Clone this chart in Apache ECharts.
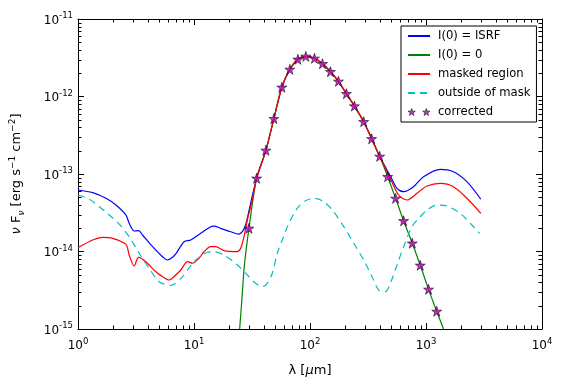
<!DOCTYPE html>
<html><head><meta charset="utf-8">
<script src="https://cdn.jsdelivr.net/npm/echarts@6/dist/echarts.min.js"></script>
<style>html,body{margin:0;padding:0;background:#fff}#c{width:564px;height:389px}</style>
</head><body><div id="c"></div>
<script>
// ---- data (wavelength in micron, flux nu F_nu in erg s^-1 cm^-2) ----
const corrLam = [29.76, 34.66, 41.67, 48.83, 57.2, 67.0, 78.6, 92.0, 109.3, 128.1, 150.1, 175.9, 206.1, 241.5, 290.3, 340.0, 398.6, 467.0, 547.1, 641.0, 761.6, 892.4, 1051.6, 1237.4];
const corrFlux = [1.99e-14, 8.8e-14, 2.02e-13, 5.18e-13, 1.315e-12, 2.24e-12, 3.02e-12, 3.30e-12, 3.11e-12, 2.65e-12, 2.09e-12, 1.57e-12, 1.086e-12, 7.53e-13, 4.73e-13, 2.85e-13, 1.69e-13, 9.23e-14, 4.85e-14, 2.49e-14, 1.28e-14, 6.64e-15, 3.25e-15, 1.69e-15];

const isrfLamL = [1.0, 1.338, 1.741, 2.123, 2.588, 2.763, 3.050, 3.328, 3.602, 4.391, 5.353, 5.909, 6.526, 6.966, 8.212, 9.377, 11.43, 13.94, 14.88, 16.99, 20.71, 24.41, 26.11, 27.87, 30.77];
const isrfFluxL = [6.22e-14, 5.74e-14, 4.86e-14, 3.98e-14, 2.96e-14, 2.31e-14, 1.84e-14, 1.855e-14, 1.633e-14, 1.153e-14, 8.57e-15, 7.77e-15, 8.42e-15, 9.29e-15, 1.337e-14, 1.406e-14, 1.717e-14, 2.09e-14, 2.13e-14, 1.99e-14, 1.80e-14, 1.68e-14, 1.80e-14, 2.20e-14, 4.19e-14];
const isrfLamR = [492.6, 562.4, 641.0, 781.4, 952.6, 1326, 1726, 2251, 2970];
const isrfFluxR = [9.42e-14, 6.54e-14, 5.91e-14, 6.86e-14, 9.23e-14, 1.15e-13, 1.07e-13, 7.96e-14, 4.72e-14];

const maskLamL = [1.0, 1.338, 1.631, 1.988, 2.588, 2.763, 3.050, 3.328, 3.845, 4.688, 5.715, 6.065, 6.966, 7.691, 8.784, 9.699, 11.05, 12.20, 13.94, 15.39, 18.14, 23.65, 25.24, 26.96, 28.83, 31.83];
const maskFluxL = [1.12e-14, 1.407e-14, 1.525e-14, 1.48e-14, 1.238e-14, 9.01e-15, 6.50e-15, 8.42e-15, 7.39e-15, 5.49e-15, 4.45e-15, 4.29e-15, 4.98e-15, 5.77e-15, 7.39e-15, 7.05e-15, 8.17e-15, 9.94e-15, 1.153e-14, 1.153e-14, 1.024e-14, 9.94e-15, 1.10e-14, 1.55e-14, 2.55e-14, 4.62e-14];
const maskLamR = [492.6, 580.6, 685.6, 836.0, 1019, 1326, 1726, 2251, 2970];
const maskFluxR = [8.75e-14, 5.36e-14, 4.62e-14, 5.64e-14, 7.0e-14, 7.59e-14, 6.86e-14, 4.86e-14, 3.11e-14];

const zeroLamL = [24.75, 25.85, 27.16];
const zeroFluxL = [1.0e-15, 2.37e-15, 6.5e-15];
const zeroLamR = [1416];
const zeroFluxR = [1.0e-15];

const outLam = [1.0, 1.251, 1.525, 1.859, 2.267, 2.763, 3.368, 4.106, 5.005, 6.31, 7.957, 9.699, 11.43, 13.05, 14.88, 18.14, 23.65, 28.83, 33.98, 38.80, 42.82, 47.29, 52.22, 57.67, 65.71, 77.62, 91.5, 107.8, 131.5, 160.2, 195.4, 238.2, 290.3, 342.8, 390.7, 446.2, 492.6, 562.4, 641.0, 757.2, 892.4, 1019, 1242, 1514, 1971, 2485, 2888];
const outFlux = [5.36e-14, 4.72e-14, 3.78e-14, 2.96e-14, 2.25e-14, 1.55e-14, 9.48e-15, 6.07e-15, 4.08e-15, 3.66e-15, 4.73e-15, 7.05e-15, 8.75e-15, 9.77e-15, 9.94e-15, 9.01e-15, 6.70e-15, 4.98e-15, 3.89e-15, 3.52e-15, 3.89e-15, 5.24e-15, 9.48e-15, 1.406e-14, 2.31e-14, 3.61e-14, 4.52e-14, 4.86e-14, 4.39e-14, 3.26e-14, 2.09e-14, 1.28e-14, 7.77e-15, 4.73e-15, 3.18e-15, 3.03e-15, 3.89e-15, 6.70e-15, 1.153e-14, 2.09e-14, 2.81e-14, 3.43e-14, 3.98e-14, 3.86e-14, 3.11e-14, 2.20e-14, 1.72e-14];

const seriesNames = ['I(0) = ISRF', 'I(0) = 0', 'masked region', 'outside of mask', 'corrected'];
const xMin = 1, xMax = 1e4, yMin = 1e-15, yMax = 1e-11;
const minorMult = [2, 3, 4, 5, 6, 7, 8, 9];
const xDecades = [1, 10, 100, 1000];
const yDecades = [1e-15, 1e-14, 1e-13, 1e-12];

// ---- build ----
const FONT = 'DejaVu Sans';
function pairs(xs, ys) { return xs.map((x, i) => [x, ys[i]]); }
const isrfData = pairs(isrfLamL.concat(corrLam.slice(1, 17), isrfLamR), isrfFluxL.concat(corrFlux.slice(1, 17), isrfFluxR));
const maskData = pairs(maskLamL.concat(corrLam.slice(1, 17), maskLamR), maskFluxL.concat(corrFlux.slice(1, 17), maskFluxR));
const zeroData = pairs(zeroLamL.concat(corrLam, zeroLamR), zeroFluxL.concat(corrFlux, zeroFluxR));
const outData = pairs(outLam, outFlux);
const corrData = pairs(corrLam, corrFlux);

const xMinor = []; xDecades.forEach(d => minorMult.forEach(m => xMinor.push([d * m, 1e-13])));
const yMinor = []; yDecades.forEach(d => minorMult.forEach(m => yMinor.push([10, d * m])));

const STAR = 'path://M50 0 L61.23 34.55 L97.55 34.55 L68.16 55.9 L79.39 90.45 L50 69.1 L20.61 90.45 L31.84 55.9 L2.45 34.55 L38.77 34.55 Z';
const STAR2 = 'path://M50 0 L61.23 34.55 L97.55 34.55 L68.16 55.9 L79.39 90.45 L50 69.1 L20.61 90.45 L31.84 55.9 L2.45 34.55 L38.77 34.55 Z M240 0 L251.23 34.55 L287.55 34.55 L258.16 55.9 L269.39 90.45 L240 69.1 L210.61 90.45 L221.84 55.9 L192.45 34.55 L228.77 34.55 Z';

function expLabel(v) { const e = Math.round(Math.log10(v)); return '{b|10}{e|' + e + '}'; }
const richTick = {
  b: { fontSize: 12, lineHeight: 15, verticalAlign: 'bottom', fontFamily: FONT, color: '#000' },
  e: { fontSize: 8.5, lineHeight: 9, verticalAlign: 'top', fontFamily: FONT, color: '#000' }
};
const MAJ = 6, MIN = 3.5;

function renderXMinor(params, api) {
  const p = api.coord([api.value(0), api.value(1)]);
  const cs = params.coordSys;
  const x = Math.round(p[0]) + 0.5;
  const yb = cs.y + cs.height, yt = cs.y;
  return { type: 'group', children: [
    { type: 'line', shape: { x1: x, y1: yb, x2: x, y2: yb - MIN }, style: { stroke: '#000', lineWidth: 1 } },
    { type: 'line', shape: { x1: x, y1: yt, x2: x, y2: yt + MIN }, style: { stroke: '#000', lineWidth: 1 } }
  ]};
}
function renderYMinor(params, api) {
  const p = api.coord([api.value(0), api.value(1)]);
  const cs = params.coordSys;
  const y = Math.round(p[1]) + 0.5;
  const xl = cs.x, xr = cs.x + cs.width;
  return { type: 'group', children: [
    { type: 'line', shape: { x1: xl, y1: y, x2: xl + MIN, y2: y }, style: { stroke: '#000', lineWidth: 1 } },
    { type: 'line', shape: { x1: xr, y1: y, x2: xr - MIN, y2: y }, style: { stroke: '#000', lineWidth: 1 } }
  ]};
}

const axisCommon = {
  type: 'log', logBase: 10,
  axisLine: { show: true, onZero: false, lineStyle: { color: '#000', width: 1 } },
  axisTick: { show: true, inside: true, length: MAJ, lineStyle: { color: '#000', width: 1 } },
  splitLine: { show: false }, minorTick: { show: false }
};
const hideSym = { opacity: 0 };
const starStyle = { color: '#bf00bf', borderColor: '#000', borderWidth: 0.7 };

const chart = echarts.init(document.getElementById('c'), null, { renderer: 'canvas' });
chart.setOption({
  animation: false,
  backgroundColor: '#fff',
  textStyle: { fontFamily: FONT },
  grid: { left: 77, right: 22, top: 19, bottom: 60 },
  xAxis: [
    Object.assign({}, axisCommon, {
      min: xMin, max: xMax, position: 'bottom',
      name: '{a|λ [}{i|μ}{a|m]}', nameLocation: 'middle', nameGap: 35,
      nameTextStyle: { rich: {
        a: { fontSize: 13, fontFamily: FONT, color: '#000' },
        i: { fontSize: 13, fontFamily: FONT, fontStyle: 'italic', color: '#000' } } },
      axisLabel: { show: true, margin: 8, formatter: expLabel, rich: richTick, showMinLabel: true, showMaxLabel: true }
    }),
    Object.assign({}, axisCommon, { min: xMin, max: xMax, position: 'top', axisLabel: { show: false } })
  ],
  yAxis: [
    Object.assign({}, axisCommon, {
      min: yMin, max: yMax, position: 'left',
      name: '{i|ν}{a| F}{sub|ν}{a| [erg s}{sup|−1}{a| cm}{sup|−2}{a|]}', nameLocation: 'middle', nameGap: 52, nameRotate: 90,
      nameTextStyle: { rich: {
        a: { fontSize: 13, lineHeight: 18, verticalAlign: 'middle', fontFamily: FONT, color: '#000' },
        i: { fontSize: 13, lineHeight: 18, verticalAlign: 'middle', fontFamily: FONT, fontStyle: 'italic', color: '#000' },
        sup: { fontSize: 9, lineHeight: 9, verticalAlign: 'top', fontFamily: FONT, color: '#000' },
        sub: { fontSize: 9, lineHeight: 9, verticalAlign: 'bottom', fontFamily: FONT, fontStyle: 'italic', color: '#000' } } },
      axisLabel: { show: true, margin: 5, formatter: expLabel, rich: richTick, showMinLabel: true, showMaxLabel: true }
    }),
    Object.assign({}, axisCommon, { min: yMin, max: yMax, position: 'right', axisLabel: { show: false } })
  ],
  legend: {
    orient: 'vertical', left: 401, top: 26,
    backgroundColor: '#fff', borderColor: '#000', borderWidth: 1, borderRadius: 0,
    padding: [4, 6, 4, 6], itemGap: 7, itemWidth: 22, itemHeight: 12,
    textStyle: { fontSize: 11.6, fontFamily: FONT, color: '#000', padding: [0, 0, 0, 3] },
    data: [
      { name: seriesNames[0], itemStyle: hideSym },
      { name: seriesNames[1], itemStyle: hideSym },
      { name: seriesNames[2], itemStyle: hideSym },
      { name: seriesNames[3], itemStyle: hideSym },
      { name: seriesNames[4], icon: STAR2, itemStyle: starStyle }
    ]
  },
  series: [
    { name: seriesNames[0], type: 'line', data: isrfData, symbol: 'none', smooth: 0.3,
      lineStyle: { color: '#0000ff', width: 1.2 }, itemStyle: { color: '#0000ff' }, z: 2 },
    { name: seriesNames[1], type: 'line', data: zeroData, symbol: 'none', smooth: 0.3,
      lineStyle: { color: '#008000', width: 1.2 }, itemStyle: { color: '#008000' }, z: 3 },
    { name: seriesNames[2], type: 'line', data: maskData, symbol: 'none', smooth: 0.3,
      lineStyle: { color: '#ff0000', width: 1.2 }, itemStyle: { color: '#ff0000' }, z: 4 },
    { name: seriesNames[3], type: 'line', data: outData, symbol: 'none', smooth: 0.3,
      lineStyle: { color: '#00bfbf', width: 1.2, type: [7, 5] }, itemStyle: { color: '#00bfbf' }, z: 5 },
    { name: seriesNames[4], type: 'scatter', data: corrData, symbol: STAR, symbolSize: 10,
      itemStyle: starStyle, z: 6 },
    { type: 'custom', data: xMinor, renderItem: renderXMinor, silent: true, clip: false, z: 1 },
    { type: 'custom', data: yMinor, renderItem: renderYMinor, silent: true, clip: false, z: 1 }
  ]
});
</script>
</body></html>
